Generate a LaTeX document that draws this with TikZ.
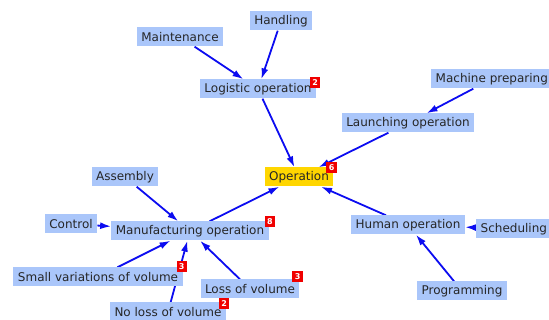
\documentclass[tikz,border=0pt]{standalone}
\usepackage{fontspec}
\setmainfont{DejaVu Sans}
\usetikzlibrary{positioning,arrows.meta,backgrounds}
\definecolor{boxblue}{RGB}{170,198,250}
\definecolor{linkblue}{RGB}{12,12,240}
\definecolor{opyellow}{RGB}{255,214,0}
\definecolor{tagred}{RGB}{240,0,0}
\tikzset{
  topic/.style={fill=boxblue,text=black!85,font=\fontsize{12}{14}\selectfont,inner xsep=4.5pt,inner ysep=0pt,minimum height=19pt},
  link/.style={draw=linkblue,line width=1.8pt,-{Latex[length=11pt,width=7pt]}},
  badge/.style={fill=tagred,text=white,font=\fontsize{8}{8}\selectfont\bfseries,inner sep=0pt,minimum size=10.5pt},
}
\begin{document}
\begin{tikzpicture}[x=1pt,y=-1pt]
\useasboundingbox (0,0) rectangle (549,320);
% topics
\node[topic] (hand) at (281,21) {Handling};
\node[topic] (maint) at (180,37) {Maintenance};
\node[topic] (logi) at (258,89) {Logistic operation};
\node[topic,anchor=west] (mach) at (431,79) {Machine preparing};
\node[topic] (launch) at (408,123) {Launching operation};
\node[topic,fill=opyellow] (oper) at (299,177) {Operation};
\node[topic] (assem) at (125,177) {Assembly};
\node[topic] (ctrl) at (71,224) {Control};
\node[topic] (manu) at (190,231) {Manufacturing operation};
\node[topic] (human) at (408,225) {Human operation};
\node[topic,anchor=west] (sched) at (476,229) {Scheduling};
\node[topic] (small) at (98,277) {Small variations of volume};
\node[topic] (loss) at (250,289) {Loss of volume};
\node[topic] (noloss) at (168,312) {No loss of volume};
\node[topic] (prog) at (462,291) {Programming};
% counters
\node[badge] (b-logi) at ([xshift=-1pt,yshift=-3pt]logi.north east) {2};
\node[badge] (b-oper) at ([xshift=-2pt]oper.north east) {6};
\node[badge] (b-manu) at ([xshift=1pt]manu.north east) {8};
\node[badge] (b-small) at ([xshift=-1pt,yshift=1pt]small.north east) {3};
\node[badge] (b-loss) at ([xshift=-2pt,yshift=3pt]loss.north east) {3};
\node[badge] (b-noloss) at ([xshift=-2pt,yshift=-1pt]noloss.north east) {2};
% links
\begin{scope}[on background layer]
\foreach \a/\b in {hand/logi,maint/logi,logi/oper,mach/launch,launch/oper,assem/manu,manu/oper,ctrl/manu,small/manu,noloss/manu,loss/manu,human/oper,sched/human,prog/human}
  \draw[link] (\a) -- (\b);
\end{scope}
\end{tikzpicture}
\end{document}
